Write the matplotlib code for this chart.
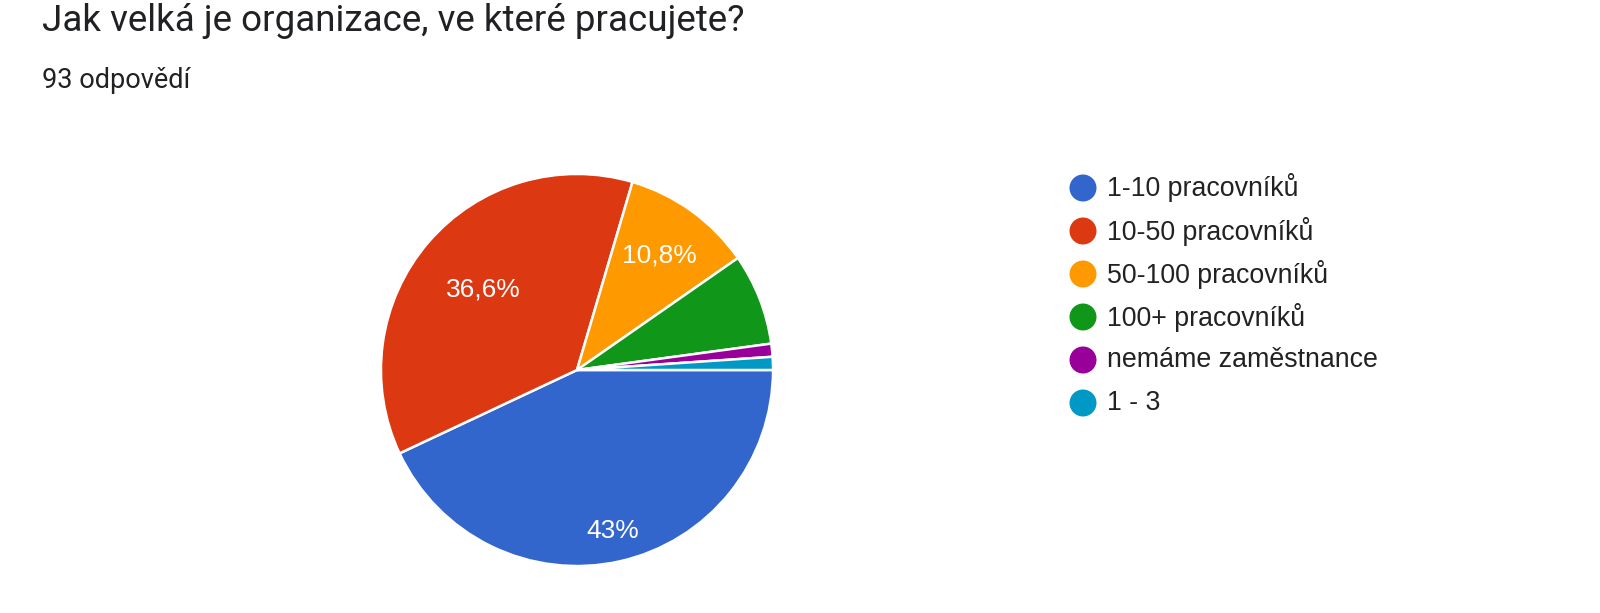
import matplotlib
matplotlib.use('Agg')
import matplotlib.pyplot as plt
import numpy as np

# Survey answers (93 responses)
labels = ['1-10 pracovníků', '10-50 pracovníků', '50-100 pracovníků',
          '100+ pracovníků', 'nemáme zaměstnance', '1 - 3']
counts = [40, 34, 10, 7, 1, 1]
colors = ['#3366cc', '#dc3912', '#ff9900', '#109618', '#990099', '#0099c6']
# how far out (fraction of radius) each slice's percentage label sits
label_dist = [0.84, 0.63, 0.72, 0.7, 0.7, 0.7]

title = 'Jak velká je organizace, ve které pracujete?'
subtitle = '93 odpovědí'

W, H = 1600, 613
fig = plt.figure(figsize=(W / 100, H / 100), dpi=100)
fig.patch.set_facecolor('white')

fig.text(42 / W, 1 - 21 / H, title, family='Roboto', fontsize=26.5,
         color='#202124', va='center', ha='left')
fig.text(42 / W, 1 - 81 / H, subtitle, family='Roboto', fontsize=19.5,
         color='#202124', va='center', ha='left')


def pct_label(p):
    if p < 10:
        return ''
    s = f'{p:.1f}'.rstrip('0').rstrip('.')
    return s.replace('.', ',') + '%'


# pie axes: centre at (577, 370) px, radius 198 px
cx, cy, r = 577, 370, 198
ax = fig.add_axes([(cx - r) / W, (H - cy - r) / H, 2 * r / W, 2 * r / H])
wedges, texts, autotexts = ax.pie(
    counts, colors=colors, startangle=0, counterclock=False,
    autopct=pct_label, pctdistance=0.77, radius=1,
    wedgeprops=dict(edgecolor='white', linewidth=1.8),
    textprops=dict(color='white', family='Liberation Sans', fontsize=19))

# move the percentage labels like Google Forms does
for w, t, d in zip(wedges, autotexts, label_dist):
    mid = np.deg2rad((w.theta1 + w.theta2) / 2)
    t.set_position((d * np.cos(mid), d * np.sin(mid)))

ax.set_xlim(-1.01, 1.01)
ax.set_ylim(-1.01, 1.01)
ax.set_aspect('equal')
ax.axis('off')

# legend drawn by hand to match the Google Forms look
lx, ly0, dy = 1083, 188, 43
for i, (lab, col) in enumerate(zip(labels, colors)):
    y = ly0 + i * dy
    fig.add_artist(matplotlib.patches.Ellipse(
        (lx / W, 1 - y / H), 27 / W, 27 / H, transform=fig.transFigure,
        facecolor=col, edgecolor='none'))
    fig.text(1107 / W, 1 - y / H, lab, family='Liberation Sans', fontsize=19.3,
             color='#222222', va='center', ha='left')

fig.savefig('out.png', dpi=100, facecolor='white')
